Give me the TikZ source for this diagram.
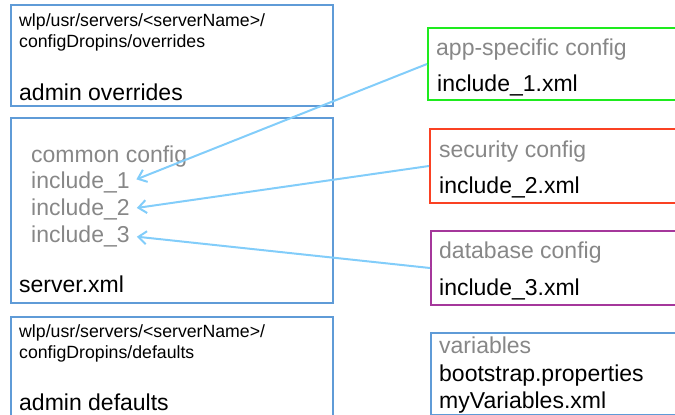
\documentclass[tikz,border=0pt]{standalone}
\usepackage{fontspec}
\setmainfont{Liberation Sans}
\usetikzlibrary{arrows.meta}
\definecolor{boxblue}{RGB}{95,155,215}
\definecolor{linkblue}{RGB}{130,205,250}
\definecolor{cfggreen}{RGB}{30,235,30}
\definecolor{cfgred}{RGB}{250,65,35}
\definecolor{cfgpurple}{RGB}{165,55,155}
\definecolor{cfggray}{RGB}{135,135,135}
\tikzset{
    panel/.style={draw=#1, line width=2pt, rectangle, anchor=north west, inner sep=0pt},
    big/.style={anchor=base west, inner sep=0pt, font=\fontsize{23}{27}\selectfont},
    small/.style={anchor=base west, inner sep=0pt, font=\fontsize{17.7}{21}\selectfont},
    hint/.style={big, text=cfggray},
    link/.style={draw=linkblue, line width=2pt, shorten >=7pt, -{Straight Barb[length=8pt,width=13pt]}},
}

\begin{document}
\begin{tikzpicture}[x=1pt, y=-1pt]
    \clip (0,0) rectangle (675,415);

    % left column
    \node[panel=boxblue, minimum width=322pt, minimum height=101pt] (overrides) at (10,4) {};
    \node[panel=boxblue, minimum width=322pt, minimum height=185pt] (server) at (10,117) {};
    \node[panel=boxblue, minimum width=322pt, minimum height=114pt] (defaults) at (10,316) {};

    \node[small] (opath1) at (19,26) {wlp/usr/servers/<serverName>/};
    \node[small] (opath2) at (19,47) {configDropins/overrides};
    \node[big] (olabel) at (19,100) {admin overrides};

    \node[hint] (common) at (31,162) {common config};
    \node[hint] (inc1) at (31,188) {include\_1};
    \node[hint] (inc2) at (31,215) {include\_2};
    \node[hint] (inc3) at (31,242) {include\_3};
    \node[big] (slabel) at (19,292) {server.xml};

    \node[small] (dpath1) at (19,337) {wlp/usr/servers/<serverName>/};
    \node[small] (dpath2) at (19,358) {configDropins/defaults};
    \node[big] (dlabel) at (19,410) {admin defaults};

    % right column
    \node[panel=cfggreen, minimum width=273pt, minimum height=72pt] (app) at (427,27) {};
    \node[panel=cfgred, minimum width=271pt, minimum height=74pt] (sec) at (429,128) {};
    \node[panel=cfgpurple, minimum width=270pt, minimum height=74pt] (db) at (430,230) {};
    \node[panel=boxblue, minimum width=270pt, minimum height=82pt] (vars) at (430,332) {};

    \node[hint] (apptitle) at (436,55) {app-specific config};
    \node[big] (appfile) at (437,91) {include\_1.xml};
    \node[hint] (sectitle) at (439,157) {security config};
    \node[big] (secfile) at (439,193) {include\_2.xml};
    \node[hint] (dbtitle) at (439,258) {database config};
    \node[big] (dbfile) at (439,295) {include\_3.xml};
    \node[hint] (varstitle) at (439,353) {variables};
    \node[big] (varsfile1) at (439,381) {bootstrap.properties};
    \node[big] (varsfile2) at (439,408) {myVariables.xml};

    % include links
    \draw[link] (app.west) -- (inc1.east);
    \draw[link] (sec.west) -- (inc2.east);
    \draw[link] (db.west) -- (inc3.east);
\end{tikzpicture}
\end{document}
